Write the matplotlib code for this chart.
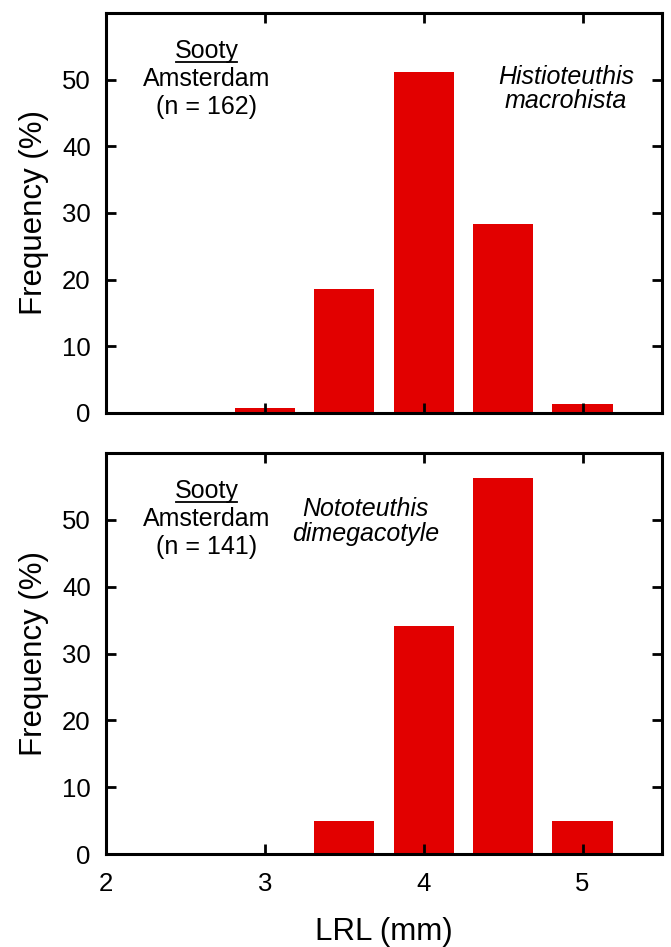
import matplotlib
matplotlib.use('Agg')
import matplotlib.pyplot as plt
from matplotlib.lines import Line2D

plt.rcParams['font.family'] = ['Liberation Sans', 'DejaVu Sans']

# LRL bin centres (mm) and frequencies (%)
lrl = [3.0, 3.5, 4.0, 4.5, 5.0]
freq_histio = [0.7, 18.6, 51.2, 28.4, 1.3]
freq_noto = [0.0, 5.0, 34.1, 56.2, 5.0]

species = ['Histioteuthis\nmacrohista', 'Nototeuthis\ndimegacotyle']
sample_sizes = [162, 141]
colony = 'Amsterdam'
xticks = [2, 3, 4, 5]
yticks = [0, 10, 20, 30, 40, 50]

red = '#e20000'

fig = plt.figure(figsize=(6.71, 9.47), dpi=100)
ax1 = fig.add_axes([0.158, 0.5639, 0.8286, 0.4224])
ax2 = fig.add_axes([0.158, 0.0982, 0.8286, 0.4234])

for ax, freq in zip([ax1, ax2], [freq_histio, freq_noto]):
    ax.bar(lrl, freq, width=0.38, color=red, edgecolor='none')
    ax.set_xlim(2, 5.5)
    ax.set_ylim(0, 60)
    ax.set_xticks(xticks)
    ax.set_yticks(yticks)
    ax.tick_params(direction='in', top=True, right=True, length=7, width=2,
                   labelsize=18.5, pad=11)
    ax.tick_params(axis='x', pad=13)
    for s in ax.spines.values():
        s.set_linewidth(2.2)
    ax.set_ylabel('Frequency (%)', fontsize=22.5, labelpad=9)

ax1.tick_params(labelbottom=False)
ax2.set_xlabel('LRL (mm)', fontsize=22.5, labelpad=15)

# sample annotations
sooty_texts = []
for ax, n in zip([ax1, ax2], sample_sizes):
    t = ax.text(0.181, 0.905, 'Sooty', transform=ax.transAxes, ha='center',
                va='center', fontsize=18)
    sooty_texts.append((ax, t))
    ax.text(0.181, 0.835, colony, transform=ax.transAxes, ha='center',
            va='center', fontsize=18)
    ax.text(0.181, 0.765, '(n = %d)' % n, transform=ax.transAxes, ha='center',
            va='center', fontsize=18)

ax1.text(0.827, 0.81, species[0], transform=ax1.transAxes, ha='center',
         va='center', fontsize=18, style='italic', linespacing=1.05)
ax2.text(0.467, 0.83, species[1], transform=ax2.transAxes, ha='center',
         va='center', fontsize=18, style='italic', linespacing=1.05)

# underline "Sooty"
fig.canvas.draw()
renderer = fig.canvas.get_renderer()
for ax, t in sooty_texts:
    bb = t.get_window_extent(renderer).transformed(fig.transFigure.inverted())
    y = bb.y0 + 0.001
    fig.add_artist(Line2D([bb.x0 + 0.002, bb.x1 - 0.002], [y, y],
                          color='black', linewidth=1.3,
                          transform=fig.transFigure))

fig.savefig('out.png', dpi=100)
